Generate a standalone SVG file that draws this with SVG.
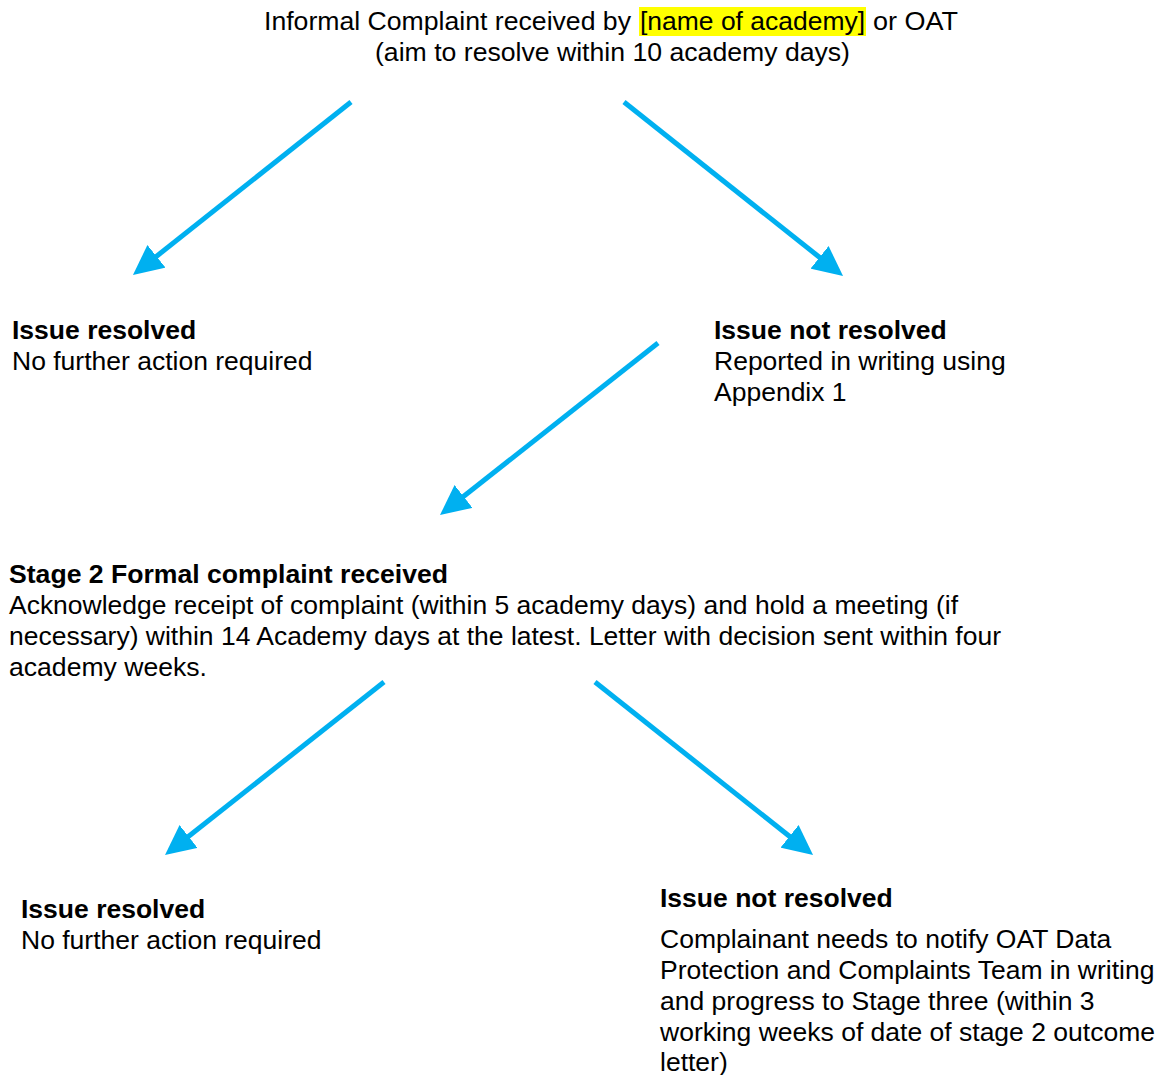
<svg xmlns="http://www.w3.org/2000/svg" width="1163" height="1075" viewBox="0 0 1163 1075">
<style>
text{font-family:"Liberation Sans",Arial,sans-serif;font-size:26.5px;fill:#000}
.b{font-weight:bold}
.c{stroke:#00B0F0;stroke-width:5;fill:none}
</style>
<defs>
<marker id="ah" markerUnits="userSpaceOnUse" markerWidth="30" markerHeight="29" refX="3" refY="14.5" orient="auto" viewBox="0 0 30 29">
<path d="M0,0 L30,14.5 L0,29 z" fill="#00B0F0"/>
</marker>
</defs>
<rect width="1163" height="1075" fill="#fff"/>
<g id="connectors">
<line class="c" x1="351" y1="102" x2="154.1" y2="258.2" marker-end="url(#ah)"/>
<line class="c" x1="624" y1="102" x2="821.9" y2="259.2" marker-end="url(#ah)"/>
<line class="c" x1="658" y1="343" x2="461.2" y2="498.3" marker-end="url(#ah)"/>
<line class="c" x1="384" y1="682" x2="186.2" y2="838.3" marker-end="url(#ah)"/>
<line class="c" x1="595" y1="682" x2="791.9" y2="838.2" marker-end="url(#ah)"/>
</g>
<g id="informal">
<rect x="639" y="7" width="227" height="29" fill="#FFFF00"/>
<text x="264" y="30" textLength="367" lengthAdjust="spacingAndGlyphs">Informal Complaint received by</text>
<text x="640" y="30" textLength="225" lengthAdjust="spacingAndGlyphs">[name of academy]</text>
<text x="873" y="30" textLength="85" lengthAdjust="spacingAndGlyphs">or OAT</text>
<text x="375" y="61" textLength="475" lengthAdjust="spacingAndGlyphs">(aim to resolve within 10 academy days)</text>
</g>
<g id="resolved1">
<text class="b" x="12" y="339">Issue resolved</text>
<text x="12" y="370">No further action required</text>
</g>
<g id="notresolved1">
<text class="b" x="714" y="339">Issue not resolved</text>
<text x="714" y="370">Reported in writing using</text>
<text x="714" y="401">Appendix 1</text>
</g>
<g id="stage2">
<text class="b" x="9" y="583" textLength="439" lengthAdjust="spacingAndGlyphs">Stage 2 Formal complaint received</text>
<text x="9" y="614" textLength="949" lengthAdjust="spacingAndGlyphs">Acknowledge receipt of complaint (within 5 academy days) and hold a meeting (if</text>
<text x="9" y="645" textLength="992" lengthAdjust="spacingAndGlyphs">necessary) within 14 Academy days at the latest. Letter with decision sent within four</text>
<text x="9" y="676" textLength="198" lengthAdjust="spacingAndGlyphs">academy weeks.</text>
</g>
<g id="resolved2">
<text class="b" x="21" y="918">Issue resolved</text>
<text x="21" y="949">No further action required</text>
</g>
<g id="notresolved2">
<text class="b" x="660" y="907">Issue not resolved</text>
<text x="660" y="948">Complainant needs to notify OAT Data</text>
<text x="660" y="979">Protection and Complaints Team in writing</text>
<text x="660" y="1010">and progress to Stage three (within 3</text>
<text x="660" y="1041">working weeks of date of stage 2 outcome</text>
<text x="660" y="1071">letter)</text>
</g>
</svg>
